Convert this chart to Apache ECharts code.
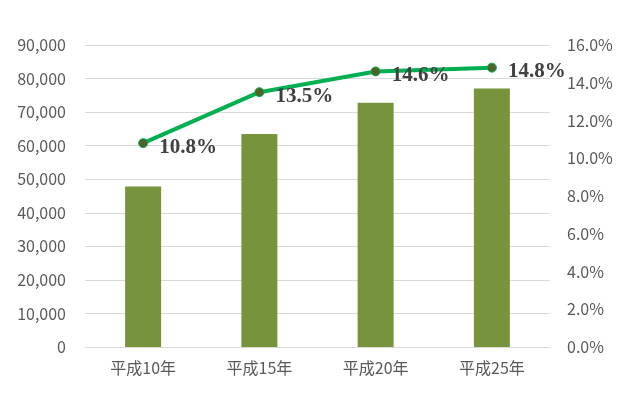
<!DOCTYPE html>
<html><head><meta charset="utf-8">
<script src="https://cdn.jsdelivr.net/npm/echarts@6/dist/echarts.min.js"></script>
<style>html,body{margin:0;padding:0;background:#fff}#c{width:622px;height:395px}</style>
</head><body><div id="c"></div>
<script>
var categories = ['平成10年','平成15年','平成20年','平成25年'];
var barValues = [47800, 63500, 72800, 77000];
var lineValues = [10.8, 13.5, 14.6, 14.8];
var leftMax = 90000, leftInterval = 10000;
var rightMax = 16, rightInterval = 2;

var chart = echarts.init(document.getElementById('c'));
var axisFont = {color:'#595959', fontSize:16, fontFamily:'"Noto Sans CJK JP", "Noto Sans", sans-serif'};
chart.setOption({
  animation:false,
  grid:{left:85, right:72, top:45, bottom:48},
  xAxis:{type:'category', data:categories,
    axisLine:{lineStyle:{color:'#d9d9d9'}}, axisTick:{show:false},
    axisLabel:Object.assign({margin:13}, axisFont)},
  yAxis:[
    {type:'value', min:0, max:leftMax, interval:leftInterval,
     axisLabel:Object.assign({margin:19, formatter:function(v){return v.toLocaleString('en-US');}}, axisFont),
     splitLine:{lineStyle:{color:'#d9d9d9'}}, axisLine:{show:false}, axisTick:{show:false}},
    {type:'value', min:0, max:rightMax, interval:rightInterval, position:'right',
     axisLabel:Object.assign({margin:17, formatter:function(v){return v.toFixed(1)+'%';}}, axisFont),
     splitLine:{show:false}, axisLine:{show:false}, axisTick:{show:false}},
  ],
  series:[
    {type:'bar', data:barValues, barWidth:36, itemStyle:{color:'#77933C'}},
    {type:'line', yAxisIndex:1, data:lineValues, symbol:'circle', symbolSize:9,
     lineStyle:{color:'#00B050', width:4}, itemStyle:{color:'#4F6228', borderColor:'#00B050', borderWidth:1},
     label:{show:true, position:'right', distance:11, offset:[0,4], formatter:function(p){return p.value.toFixed(1)+'%';},
       fontFamily:'"Liberation Serif", serif', fontWeight:'bold', fontSize:21, color:'#404040'}}
  ]
});
</script></body></html>
